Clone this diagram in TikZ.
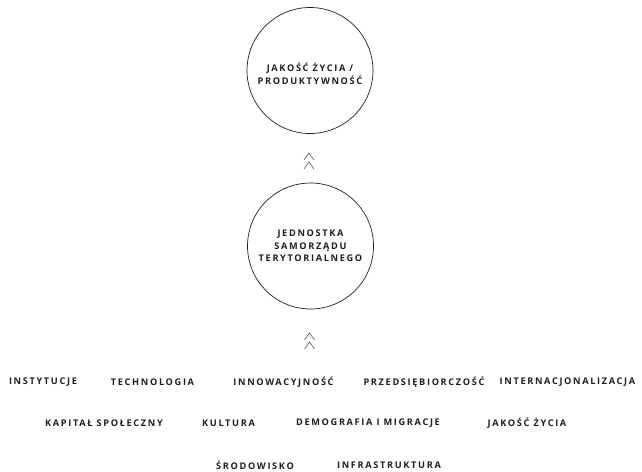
\documentclass[tikz,border=0pt]{standalone}
\usepackage{fontspec}
\newfontfamily\labfont[LetterSpace=18]{Open Sans}
\definecolor{ink}{HTML}{1E1E1E}
\tikzset{
  lab/.style={inner sep=0pt, text=ink, font=\labfont\bfseries\fontsize{9.2}{12.5}\selectfont, align=center},
  ring/.style={circle, draw=ink, line width=0.7pt, minimum size=126pt, inner sep=0pt},
  chev/.style={draw=ink!75, line width=0.6pt}
}
\begin{document}
\begin{tikzpicture}[x=1pt,y=-1pt]
\useasboundingbox (0,0) rectangle (642,471);
% circles
\node[ring] (top) at (310,70.5) {};
\node[lab] (toptxt) at (310,74) {JAKOŚĆ ŻYCIA /\\PRODUKTYWNOŚĆ};
\node[ring] (mid) at (310.5,246) {};
\node[lab] (midtxt) at (310.5,246) {JEDNOSTKA\\SAMORZĄDU\\TERYTORIALNEGO};
% chevrons
\coordinate (c1) at (309,153);
\coordinate (c2) at (309.5,333);
\foreach \c in {c1,c2}{
  \draw[chev] ([xshift=-5pt,yshift=-7pt]\c) -- (\c) -- ([xshift=5pt,yshift=-7pt]\c);
  \draw[chev] ([xshift=-5pt,yshift=-16pt]\c) -- ([yshift=-9pt]\c) -- ([xshift=5pt,yshift=-16pt]\c);
}
% row 1
\node[lab] (r11) at (43,382) {INSTYTUCJE};
\node[lab] (r12) at (152.5,382) {TECHNOLOGIA};
\node[lab] (r13) at (283.5,382) {INNOWACYJNOŚĆ};
\node[lab] (r14) at (424,382) {PRZEDSIĘBIORCZOŚĆ};
\node[lab] (r15) at (567.5,382) {INTERNACJONALIZACJA};
% row 2
\node[lab] (r21) at (104,423) {KAPITAŁ SPOŁECZNY};
\node[lab] (r22) at (228.5,423) {KULTURA};
\node[lab] (r23) at (368,423) {DEMOGRAFIA I MIGRACJE};
\node[lab] (r24) at (527,423) {JAKOŚĆ ŻYCIA};
% row 3
\node[lab] (r31) at (255,465) {ŚRODOWISKO};
\node[lab] (r32) at (389,465) {INFRASTRUKTURA};
\end{tikzpicture}
\end{document}
